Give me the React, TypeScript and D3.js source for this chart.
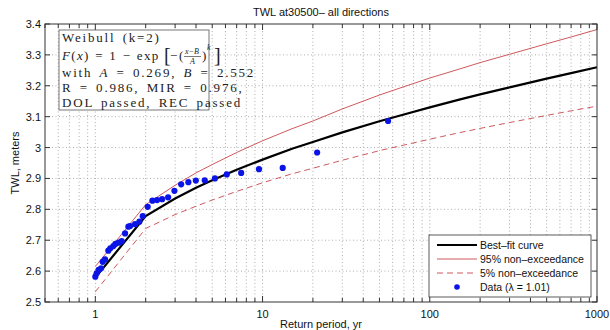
import * as d3 from "d3";

// return periods (yr) where the fitted curve and bounds are sampled
const returnPeriods = [1, 2, 3, 4, 5, 7, 10, 15, 20, 30, 50, 70, 100, 150, 200, 300, 500, 700, 1000];
const bestFit = [2.579, 2.778, 2.835, 2.870, 2.894, 2.928, 2.961, 2.996, 3.018, 3.049, 3.085, 3.107, 3.130, 3.155, 3.172, 3.195, 3.223, 3.241, 3.260];
const upper95 = [2.615, 2.815, 2.878, 2.918, 2.945, 2.984, 3.022, 3.061, 3.086, 3.125, 3.170, 3.197, 3.225, 3.254, 3.275, 3.302, 3.336, 3.358, 3.382];
const lower5 = [2.533, 2.738, 2.783, 2.810, 2.830, 2.858, 2.886, 2.915, 2.933, 2.959, 2.990, 3.008, 3.027, 3.048, 3.062, 3.081, 3.104, 3.119, 3.134];

// observed data (plotting positions)
const dataT = [1.0, 1.018, 1.046, 1.082, 1.106, 1.143, 1.196, 1.229, 1.282, 1.318, 1.379, 1.437, 1.506, 1.576, 1.614, 1.729, 1.834, 1.921, 2.056, 2.194, 2.34, 2.508, 2.725, 2.971, 3.26, 3.6, 3.99, 4.51, 5.19, 6.11, 7.45, 9.52, 13.2, 21.2, 56.3];
const dataTWL = [2.582, 2.593, 2.604, 2.609, 2.630, 2.638, 2.666, 2.674, 2.681, 2.688, 2.692, 2.697, 2.722, 2.744, 2.746, 2.752, 2.760, 2.778, 2.808, 2.828, 2.830, 2.833, 2.839, 2.860, 2.881, 2.888, 2.893, 2.894, 2.900, 2.913, 2.918, 2.930, 2.934, 2.984, 3.086];

const xLabels = [1, 10, 100, 1000];
const yTicks = [2.5, 2.6, 2.7, 2.8, 2.9, 3.0, 3.1, 3.2, 3.3, 3.4];

const W = 610, H = 330;
const left = 45, right = 597, top = 24, bottom = 302;
const sans = "'Liberation Sans', Arial, sans-serif";
const serif = "'Liberation Serif', 'DejaVu Serif', serif";
const red = "#c8464b";

export default function App() {
  const x = d3.scaleLog().domain([0.5, 1000]).range([left, right]);
  const y = d3.scaleLinear().domain([2.5, 3.4]).range([bottom, top]);
  const xTicks = x.ticks();

  const line = d3.line<number>()
    .x((_, i) => x(returnPeriods[i]))
    .y(d => y(d));

  const mathLine = { fontFamily: serif, fontSize: 13, letterSpacing: 1.8, wordSpacing: 2.2 } as const;
  const small = { fontFamily: serif, fontSize: 8, fontStyle: "italic" } as const;

  return (
    <svg width={W} height={H} style={{ position: "absolute", left: 0, top: 0, background: "#fff" }}>
      <rect x={0} y={0} width={W} height={H} fill="#fff" />
      {/* grid */}
      <g stroke="#9a9a9a" strokeWidth={0.8} strokeDasharray="1 2.5">
        {xTicks.filter(t => t > 0.5 && t < 1000).map(t => (
          <line key={"gx" + t} x1={x(t)} x2={x(t)} y1={top} y2={bottom} />
        ))}
        {yTicks.slice(1, -1).map(t => (
          <line key={"gy" + t} x1={left} x2={right} y1={y(t)} y2={y(t)} />
        ))}
      </g>

      {/* curves */}
      <path d={line(upper95) || ""} fill="none" stroke={red} strokeWidth={0.9} />
      <path d={line(lower5) || ""} fill="none" stroke={red} strokeWidth={0.9} strokeDasharray="6 4" />
      <path d={line(bestFit) || ""} fill="none" stroke="#000" strokeWidth={2.2} />
      <g fill="#0a14e6">
        {dataT.map((t, i) => (
          <circle key={i} cx={x(t)} cy={y(dataTWL[i])} r={3.1} />
        ))}
      </g>

      {/* axes box and ticks */}
      <rect x={left} y={top} width={right - left} height={bottom - top} fill="none" stroke="#333" strokeWidth={1} />
      <g stroke="#333" strokeWidth={1}>
        {xTicks.map(t => {
          const len = xLabels.includes(t) ? 6 : 4;
          return (
            <g key={"tx" + t}>
              <line x1={x(t)} x2={x(t)} y1={bottom} y2={bottom - len} />
              <line x1={x(t)} x2={x(t)} y1={top} y2={top + len} />
            </g>
          );
        })}
        {yTicks.map(t => (
          <g key={"ty" + t}>
            <line x1={left} x2={left + 5} y1={y(t)} y2={y(t)} />
            <line x1={right} x2={right - 5} y1={y(t)} y2={y(t)} />
          </g>
        ))}
      </g>
      <g fontFamily={sans} fontSize={11} fill="#111">
        {xLabels.map(t => (
          <text key={"lx" + t} x={x(t)} y={bottom + 16} textAnchor="middle">{t}</text>
        ))}
        {yTicks.map(t => (
          <text key={"ly" + t} x={left - 4} y={y(t) + 4} textAnchor="end">{d3.format("~g")(t)}</text>
        ))}
        <text x={(left + right) / 2} y={16} textAnchor="middle">TWL at30500– all directions</text>
        <text x={(left + right) / 2} y={328} textAnchor="middle">Return period, yr</text>
        <text transform={`translate(19,${(top + bottom) / 2}) rotate(-90)`} textAnchor="middle">TWL, meters</text>
      </g>

      {/* annotation box (text runs past its right edge, as in the original) */}
      <rect x={59} y={30} width={150} height={80} fill="#fff" stroke="#555" strokeWidth={0.8} />
      <g fill="#222">
        <text x={62} y={42} {...mathLine}>Weibull (k=2)</text>
        <text x={62} y={60} fontFamily={serif} fontSize={13} letterSpacing={1.3} wordSpacing={1}>
          <tspan fontStyle="italic">F</tspan>(<tspan fontStyle="italic">x</tspan>) = 1 − exp
        </text>
        <text x={164} y={62} fontFamily={serif} fontSize={20}>[</text>
        <text x={170} y={60} fontFamily={serif} fontSize={13}>−</text>
        <text x={179} y={60} fontFamily={serif} fontSize={13}>(</text>
        <text x={185} y={54} {...small}>x−B</text>
        <line x1={184} x2={201} y1={56.5} y2={56.5} stroke="#222" strokeWidth={0.6} />
        <text x={190} y={64} {...small}>A</text>
        <text x={202} y={60} fontFamily={serif} fontSize={13}>)</text>
        <text x={207} y={50} {...small}>k</text>
        <text x={214} y={62} fontFamily={serif} fontSize={20}>]</text>
        <text x={62} y={77} {...mathLine}>
          with <tspan fontStyle="italic">A</tspan> = 0.269, <tspan fontStyle="italic">B</tspan> = 2.552
        </text>
        <text x={62} y={92} {...mathLine}>R = 0.986, MIR = 0.976,</text>
        <text x={62} y={107} {...mathLine}>DOL passed, REC passed</text>
      </g>

      {/* legend */}
      <rect x={429} y={235} width={162} height={62} fill="#fff" stroke="#333" strokeWidth={0.8} />
      <g fontFamily={sans} fontSize={10.5} fill="#111">
        <line x1={437} x2={477} y1={245} y2={245} stroke="#000" strokeWidth={2} />
        <text x={480} y={249}>Best–fit curve</text>
        <line x1={437} x2={477} y1={259} y2={259} stroke={red} strokeWidth={0.9} />
        <text x={480} y={263}>95% non–exceedance</text>
        <line x1={437} x2={477} y1={273} y2={273} stroke={red} strokeWidth={0.9} strokeDasharray="6 4" />
        <text x={480} y={277}>5% non–exceedance</text>
        <circle cx={457} cy={287} r={2.8} fill="#0a14e6" />
        <text x={480} y={291}>Data (λ = 1.01)</text>
      </g>
    </svg>
  );
}
